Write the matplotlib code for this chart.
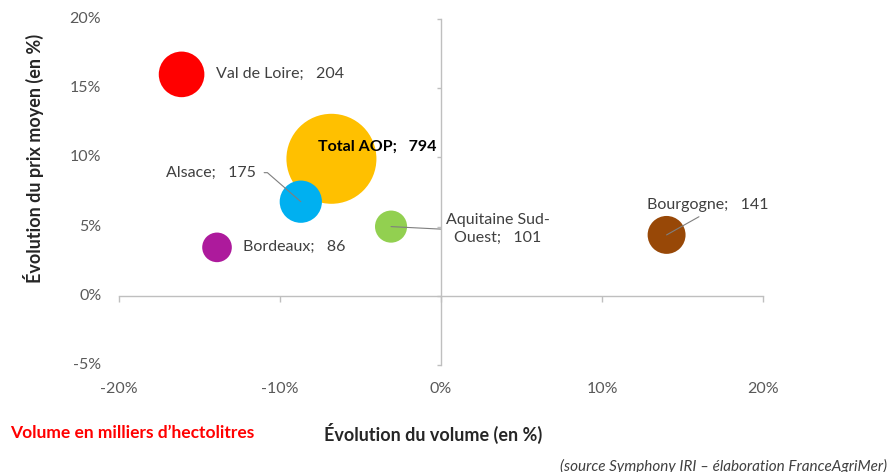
import matplotlib.pyplot as plt

# data (evolution in %, volume in thousand hl)
regions = ["Val de Loire", "Total AOP", "Alsace", "Aquitaine Sud-\nOuest", "Bordeaux", "Bourgogne"]
volume_change = [-16.1, -6.8, -8.7, -3.1, -13.9, 14.0]
price_change = [16.0, 9.9, 6.8, 5.0, 3.5, 4.4]
volumes = [204, 794, 175, 101, 86, 141]
colors = ["#FF0000", "#FFC000", "#00B0F0", "#92D050", "#AD1A9C", "#984807"]

xticks = [-20, -10, 0, 10, 20]
yticks = [-5, 0, 5, 10, 15, 20]

plt.rcParams['font.family'] = ['Lato', 'DejaVu Sans']

fig = plt.figure(figsize=(8.9, 4.72), dpi=100)
ax = fig.add_axes([0.1334, 0.2267, 0.7242, 0.733])

# excel bubble: area proportional to value, biggest bubble ~90px wide
scale = 4199 / max(volumes)
sizes = [v * scale for v in volumes]
ax.scatter(volume_change, price_change, s=sizes, c=colors, linewidths=0, zorder=3)

ax.set_xlim(-20, 20)
ax.set_ylim(-5, 20)

# axes crossing at zero, like excel
for side in ["top", "right"]:
    ax.spines[side].set_visible(False)
ax.spines["left"].set_position(("data", 0))
ax.spines["bottom"].set_position(("data", 0))
for side in ["left", "bottom"]:
    ax.spines[side].set_color("#BFBFBF")
    ax.spines[side].set_linewidth(1)
ax.set_xticks(xticks)
ax.set_yticks(yticks)
ax.tick_params(axis="both", colors="#BFBFBF", labelleft=False, labelbottom=False, width=1)
ax.tick_params(axis="x", length=4)
ax.tick_params(axis="y", length=3)

# tick labels at the outer edge of the plot
tick_color = "#595959"
for v in xticks:
    ax.text(v, -0.069, f"{v}%", transform=ax.get_xaxis_transform(),
            ha="center", va="center", fontsize=11.5, color=tick_color)
for v in yticks:
    ax.text(-0.027, v, f"{v}%", transform=ax.get_yaxis_transform(),
            ha="right", va="center", fontsize=11.5, color=tick_color)

# data labels
lab_color = "#404040"
lead = dict(arrowstyle="-", color="#7F7F7F", lw=0.8, shrinkA=2, shrinkB=0)
sep = ";   "

ax.annotate(regions[0] + sep + str(volumes[0]), (volume_change[0], price_change[0]),
            xytext=(24.5, 0), textcoords="offset points", ha="left", va="center",
            fontsize=11.5, color=lab_color, zorder=5)
ax.annotate(regions[1] + sep + str(volumes[1]), (volume_change[1], price_change[1]),
            xytext=(-9.4, 8.6), textcoords="offset points", ha="left", va="center",
            fontsize=11.5, color="black", fontweight="bold", zorder=5)
ax.annotate(regions[2] + sep + str(volumes[2]), (volume_change[2], price_change[2]),
            xytext=(-32.4, 20.9), textcoords="offset points", ha="right", va="center",
            fontsize=11.5, color=lab_color, zorder=5,
            arrowprops=dict(lead, relpos=(1, 0.5), shrinkA=4,
                            connectionstyle="angle,angleA=0,angleB=-41,rad=0"))
ax.annotate(regions[3] + sep + str(volumes[3]), (volume_change[3], price_change[3]),
            xytext=(77, -2), textcoords="offset points", ha="center", va="center",
            multialignment="center", fontsize=11.5, color=lab_color, zorder=5,
            linespacing=1.35,
            arrowprops=dict(lead, relpos=(0, 0.5)))
ax.annotate(regions[4] + sep + str(volumes[4]), (volume_change[4], price_change[4]),
            xytext=(18.7, 0), textcoords="offset points", ha="left", va="center",
            fontsize=11.5, color=lab_color, zorder=5)
ax.annotate(regions[5] + sep + str(volumes[5]), (volume_change[5], price_change[5]),
            xytext=(29.5, 21.6), textcoords="offset points", ha="center", va="center",
            fontsize=11.5, color=lab_color, zorder=5,
            arrowprops=dict(lead, relpos=(0.5, 0), shrinkA=3))

# axis titles and notes
fig.text(0.038, 0.665, "Évolution du prix moyen (en %)", rotation=90, ha="center", va="center",
         fontsize=13, fontweight="bold", color="#262626")
fig.text(0.4865, 0.0826, "Évolution du volume (en %)", ha="center", va="center",
         fontsize=13, fontweight="bold", color="#262626")
fig.text(0.011, 0.0826, "Volume en milliers d’hectolitres", ha="left", va="center",
         fontsize=12.5, fontweight="bold", color="#FF0000")
fig.text(0.997, 0.0127, "(source Symphony IRI – élaboration FranceAgriMer)", ha="right", va="center",
         fontsize=11, fontstyle="italic", color="#404040")

fig.savefig("out.png", dpi=100)
